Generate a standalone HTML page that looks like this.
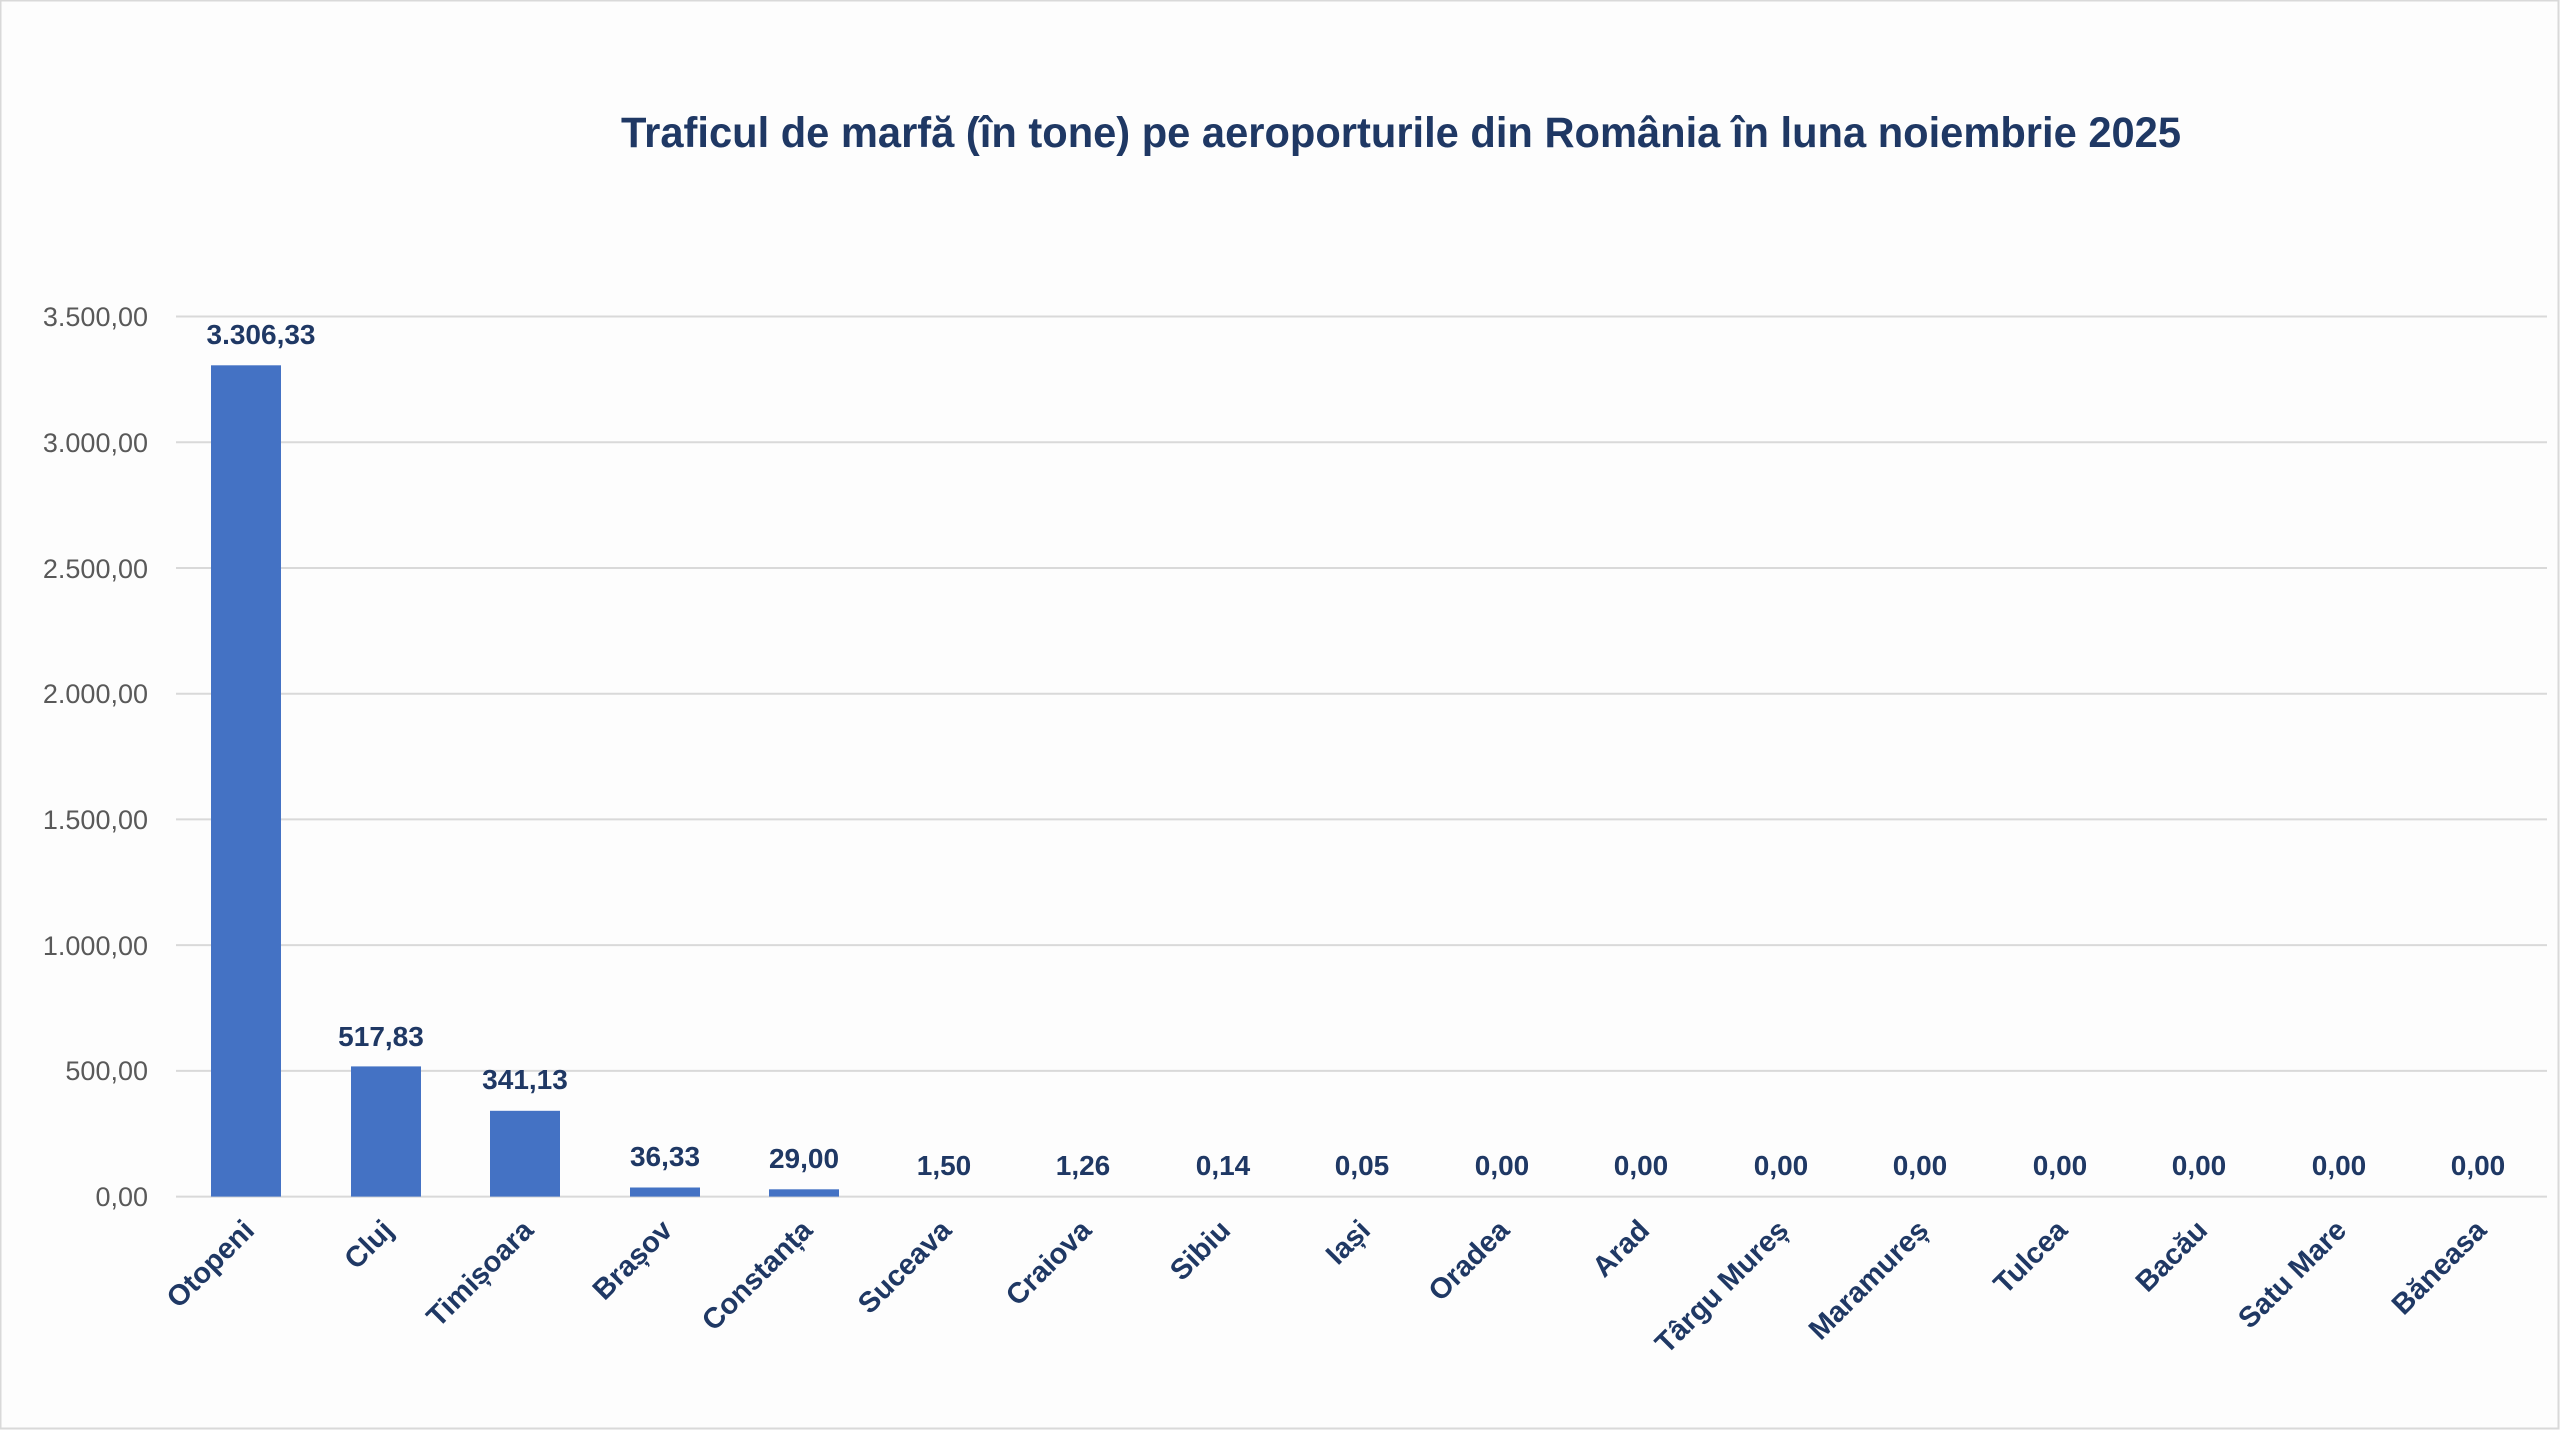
<!DOCTYPE html>
<html><head><meta charset="utf-8"><style>
html,body{margin:0;padding:0;background:#fdfdfd;}
svg{display:block;}
</style></head><body>
<svg width="2560" height="1430" viewBox="0 0 2560 1430" xmlns="http://www.w3.org/2000/svg" font-family="Liberation Sans, DejaVu Sans, sans-serif">
<rect x="0.5" y="0.5" width="2558" height="1428" fill="#fdfdfd" stroke="#d9d9d9" stroke-width="2"/>
<text x="1401" y="147" text-anchor="middle" font-size="43" font-weight="bold" fill="#1f3864" textLength="1560" lengthAdjust="spacingAndGlyphs">Traficul de marfă (în tone) pe aeroporturile din România în luna noiembrie 2025</text>
<g stroke="#d9d9d9" stroke-width="2">
<line x1="176" x2="2547" y1="316.5" y2="316.5"/>
<line x1="176" x2="2547" y1="442.2" y2="442.2"/>
<line x1="176" x2="2547" y1="568" y2="568"/>
<line x1="176" x2="2547" y1="693.7" y2="693.7"/>
<line x1="176" x2="2547" y1="819.4" y2="819.4"/>
<line x1="176" x2="2547" y1="945.1" y2="945.1"/>
<line x1="176" x2="2547" y1="1070.9" y2="1070.9"/>
<line x1="176" x2="2547" y1="1196.6" y2="1196.6"/>
</g>
<g font-size="27" fill="#595959" text-anchor="end">
<text x="148" y="326">3.500,00</text>
<text x="148" y="452">3.000,00</text>
<text x="148" y="578">2.500,00</text>
<text x="148" y="703">2.000,00</text>
<text x="148" y="829">1.500,00</text>
<text x="148" y="955">1.000,00</text>
<text x="148" y="1080">500,00</text>
<text x="148" y="1206">0,00</text>
</g>
<g fill="#4472c4">
<rect x="211" y="365.3" width="70" height="831.3"/>
<rect x="351" y="1066.4" width="70" height="130.2"/>
<rect x="490" y="1110.8" width="70" height="85.8"/>
<rect x="630" y="1187.5" width="70" height="9.1"/>
<rect x="769" y="1189.3" width="70" height="7.3"/>
</g>
<g font-size="28" font-weight="bold" fill="#1f3864" text-anchor="middle">
<text x="261" y="344">3.306,33</text>
<text x="381" y="1046">517,83</text>
<text x="525" y="1089">341,13</text>
<text x="665" y="1166">36,33</text>
<text x="804" y="1168">29,00</text>
<text x="944" y="1175">1,50</text>
<text x="1083" y="1175">1,26</text>
<text x="1223" y="1175">0,14</text>
<text x="1362" y="1175">0,05</text>
<text x="1502" y="1175">0,00</text>
<text x="1641" y="1175">0,00</text>
<text x="1781" y="1175">0,00</text>
<text x="1920" y="1175">0,00</text>
<text x="2060" y="1175">0,00</text>
<text x="2199" y="1175">0,00</text>
<text x="2339" y="1175">0,00</text>
<text x="2478" y="1175">0,00</text>
</g>
<g font-size="29" font-weight="bold" fill="#1f3864" text-anchor="end">
<text transform="translate(256,1232) rotate(-45)">Otopeni</text>
<text transform="translate(395,1232) rotate(-45)">Cluj</text>
<text transform="translate(535,1232) rotate(-45)">Timișoara</text>
<text transform="translate(674,1232) rotate(-45)">Brașov</text>
<text transform="translate(814,1232) rotate(-45)">Constanța</text>
<text transform="translate(953,1232) rotate(-45)">Suceava</text>
<text transform="translate(1093,1232) rotate(-45)">Craiova</text>
<text transform="translate(1232,1232) rotate(-45)">Sibiu</text>
<text transform="translate(1372,1232) rotate(-45)">Iași</text>
<text transform="translate(1511,1232) rotate(-45)">Oradea</text>
<text transform="translate(1651,1232) rotate(-45)">Arad</text>
<text transform="translate(1790,1232) rotate(-45)">Târgu Mureș</text>
<text transform="translate(1930,1232) rotate(-45)">Maramureș</text>
<text transform="translate(2069,1232) rotate(-45)">Tulcea</text>
<text transform="translate(2209,1232) rotate(-45)">Bacău</text>
<text transform="translate(2348,1232) rotate(-45)">Satu Mare</text>
<text transform="translate(2488,1232) rotate(-45)">Băneasa</text>
</g>
</svg>
</body></html>
